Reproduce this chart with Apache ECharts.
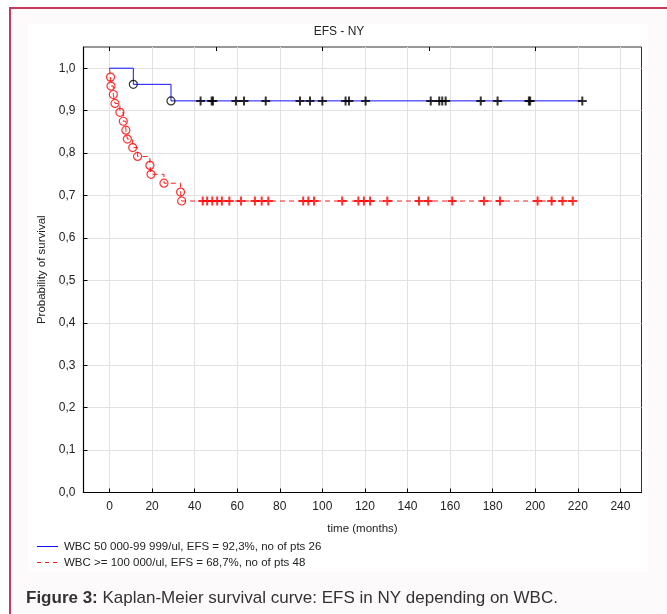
<!DOCTYPE html>
<html>
<head>
<meta charset="utf-8">
<script src="https://cdn.jsdelivr.net/npm/echarts@6/dist/echarts.min.js"></script>
<style>
  html, body { margin: 0; padding: 0; background: #fff; }
  #chart { width: 667px; height: 614px; }
</style>
</head>
<body>
<div id="chart"></div>
<script>
// axis ticks
const xTicks = [0, 20, 40, 60, 80, 100, 120, 140, 160, 180, 200, 220, 240];
const xTopTicks = [0, 50, 100, 150, 200];
const yTicks = [0, 0.1, 0.2, 0.3, 0.4, 0.5, 0.6, 0.7, 0.8, 0.9, 1.0];

const nameBlue = 'WBC 50 000-99 999/ul, EFS = 92,3%, no of pts 26';
const nameRed = 'WBC >= 100 000/ul, EFS = 68,7%, no of pts 48';

// WBC 50 000-99 999/ul : events (circles) and censored (+)
const blueEventTimes = [11.2, 28.9];
const blueEventSurv = [0.962, 0.923];
const blueCensorTimes = [42.8, 48.0, 48.6, 59.4, 63.2, 73.4, 89.5, 94.2, 100.0, 110.9, 112.5, 120.3,
  150.9, 154.9, 156.3, 157.9, 174.4, 182.3, 197.0, 197.6, 222.1];

// WBC >= 100 000/ul
const redEventTimes = [0.5, 0.7, 1.8, 2.6, 4.9, 6.5, 7.7, 8.4, 10.9, 13.2, 19.0, 19.5, 25.6, 33.4, 33.9];
const redEventSurv = [0.979, 0.958, 0.938, 0.917, 0.896, 0.875, 0.854, 0.833, 0.813, 0.792,
  0.771, 0.75, 0.729, 0.708, 0.687];
const redCensorTimes = [43.8, 45.9, 48.3, 50.6, 52.8, 56.3, 61.8, 68.3, 71.5, 74.6, 91.0, 93.4, 96.1,
  109.3, 116.9, 119.5, 122.4, 130.5, 145.4, 149.7, 161.0, 175.9, 183.4, 201.1, 207.7, 212.8, 217.6];

function levelAt(times, surv, t) {
  let s = 1;
  times.forEach((et, i) => { if (et <= t) s = surv[i]; });
  return s;
}

function stepData(times, surv, censors) {
  const pts = [[0, 1]];
  times.forEach((t, i) => pts.push([t, surv[i]]));
  const last = Math.max(...censors);
  pts.push([last, levelAt(times, surv, last)]);
  return pts;
}

const plusIcon = 'path://M3.5,0h2v3.5h3.5v2h-3.5v3.5h-2v-3.5h-3.5v-2h3.5z';
const FONT = 'Liberation Sans, Arial, sans-serif';
const fmt = v => v.toFixed(1).replace('.', ',');

const BLUE = '#1010ff';
const RED = '#ff1a1a';

const chart = echarts.init(document.getElementById('chart'));
chart.setOption({
  animation: false,
  textStyle: { fontFamily: FONT },
  graphic: [
    { type: 'rect', z: -10, silent: true, shape: { x: 10, y: 8, width: 720, height: 720 },
      style: { fill: '#fdfafb', stroke: '#c8385e', lineWidth: 2 } },
    { type: 'rect', z: -9, silent: true, shape: { x: 28, y: 24, width: 620, height: 548 },
      style: { fill: '#ffffff' } },
    { type: 'text', x: 339, y: 32, style: { text: 'EFS - NY', font: '12px ' + FONT, fill: '#222',
      textAlign: 'center', textVerticalAlign: 'middle' } },
    // legend
    { type: 'line', shape: { x1: 37, y1: 546.5, x2: 58, y2: 546.5 }, style: { stroke: BLUE, lineWidth: 1 } },
    { type: 'line', shape: { x1: 37, y1: 562.5, x2: 58, y2: 562.5 }, style: { stroke: RED, lineWidth: 1, lineDash: [4, 4] } },
    { type: 'text', x: 64, y: 547, style: { text: nameBlue, font: '11.5px ' + FONT, fill: '#222', textVerticalAlign: 'middle' } },
    { type: 'text', x: 64, y: 563, style: { text: nameRed, font: '11.5px ' + FONT, fill: '#222', textVerticalAlign: 'middle' } },
    { type: 'text', x: 26, y: 598, style: {
      text: '{b|Figure 3:} Kaplan-Meier survival curve: EFS in NY depending on WBC.',
      font: '17px ' + FONT, fill: '#333', textVerticalAlign: 'middle',
      rich: { b: { fontWeight: 'bold', fontSize: 17, fontFamily: FONT, fill: '#333' } } } }
  ],
  grid: { left: 83.5, right: 25.5, top: 47, bottom: 121.5, show: true, borderColor: '#333', borderWidth: 1 },
  xAxis: [{
    type: 'value', min: -12.2, max: 249.9,
    name: 'time (months)', nameLocation: 'middle', nameGap: 30,
    nameTextStyle: { fontSize: 11.5, color: '#222' },
    axisLine: { onZero: false, lineStyle: { color: '#000', width: 1.2 } },
    axisTick: { inside: true, length: 4, customValues: xTicks, lineStyle: { color: '#000' } },
    axisLabel: { customValues: xTicks, fontSize: 12, color: '#222', margin: 8 },
    splitLine: { show: true, lineStyle: { color: '#e2e2e2' } }
  }, {
    type: 'value', position: 'top', min: -12.2, max: 249.9,
    axisLine: { show: false, onZero: false },
    axisTick: { inside: true, length: 4, customValues: xTopTicks, lineStyle: { color: '#000' } },
    axisLabel: { show: false },
    splitLine: { show: false }
  }],
  yAxis: {
    type: 'value', min: 0, max: 1.05,
    name: 'Probability of survival', nameLocation: 'middle', nameGap: 35,
    nameTextStyle: { fontSize: 11.5, color: '#222' },
    axisLine: { show: true, onZero: false, lineStyle: { color: '#000', width: 1.2 } },
    axisTick: { show: true, inside: true, length: 4, customValues: yTicks, lineStyle: { color: '#000' } },
    axisLabel: { customValues: yTicks, fontSize: 12, color: '#222', margin: 8, formatter: fmt },
    splitLine: { show: true, lineStyle: { color: '#e2e2e2' } }
  },
  series: [
    {
      name: nameBlue, type: 'line', step: 'end', symbol: 'none',
      data: stepData(blueEventTimes, blueEventSurv, blueCensorTimes),
      lineStyle: { color: BLUE, width: 1 }, itemStyle: { color: BLUE }, z: 3
    },
    {
      name: nameRed, type: 'line', step: 'end', symbol: 'none',
      data: stepData(redEventTimes, redEventSurv, redCensorTimes),
      lineStyle: { color: RED, width: 1, type: [5, 4] }, itemStyle: { color: RED }, z: 2
    },
    {
      name: 'blue events', type: 'scatter', symbol: 'circle', symbolSize: 8,
      data: blueEventTimes.map((t, i) => [t, blueEventSurv[i]]),
      itemStyle: { color: 'rgba(0,0,0,0)', borderColor: '#000', borderWidth: 1.2 }, z: 4
    },
    {
      name: 'red events', type: 'scatter', symbol: 'circle', symbolSize: 8,
      data: redEventTimes.map((t, i) => [t, redEventSurv[i]]),
      itemStyle: { color: 'rgba(0,0,0,0)', borderColor: '#ff0000', borderWidth: 1.2 }, z: 4
    },
    {
      name: 'blue censored', type: 'scatter', symbol: plusIcon, symbolSize: 9,
      data: blueCensorTimes.map(t => [t, levelAt(blueEventTimes, blueEventSurv, t)]),
      itemStyle: { color: '#000' }, z: 5
    },
    {
      name: 'red censored', type: 'scatter', symbol: plusIcon, symbolSize: 9,
      data: redCensorTimes.map(t => [t, levelAt(redEventTimes, redEventSurv, t)]),
      itemStyle: { color: '#ff0000' }, z: 5
    }
  ]
});
</script>
</body>
</html>
